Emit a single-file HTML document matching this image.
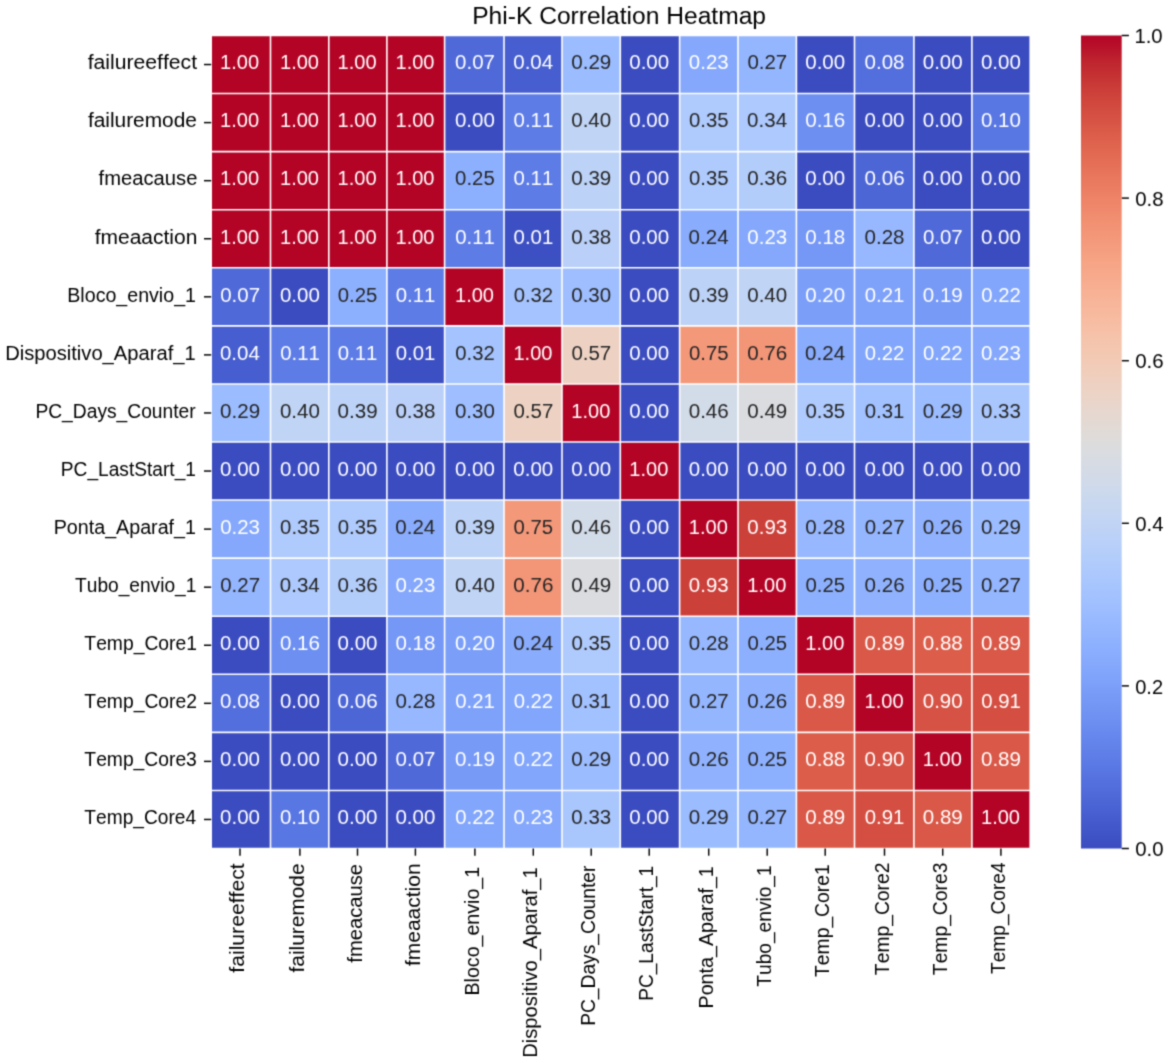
<!DOCTYPE html><html><head><meta charset="utf-8"><style>html,body{margin:0;padding:0;background:#fff;}svg{display:block;}text{font-family:"Liberation Sans",sans-serif;font-kerning:none;font-variant-ligatures:none;}</style></head><body>
<div><svg width="1170" height="1063" viewBox="0 0 1170 1063">
<defs><filter id="bl" filterUnits="userSpaceOnUse" x="0" y="0" width="1170" height="1063" color-interpolation-filters="sRGB"><feConvolveMatrix order="3" kernelMatrix="0.0324 0.1152 0.0324 0.1152 0.4096 0.1152 0.0324 0.1152 0.0324" edgeMode="duplicate"/></filter></defs>
<g filter="url(#bl)">
<rect x="0" y="0" width="1170" height="1063" fill="#fff"/>
<g><rect x="211.20" y="35.50" width="59.30" height="58.07" fill="#b40426"/><rect x="270.50" y="35.50" width="58.30" height="58.07" fill="#b40426"/><rect x="328.80" y="35.50" width="58.10" height="58.07" fill="#b40426"/><rect x="386.90" y="35.50" width="57.70" height="58.07" fill="#b40426"/><rect x="444.60" y="35.50" width="59.40" height="58.07" fill="#4f69d9"/><rect x="504.00" y="35.50" width="58.00" height="58.07" fill="#465ecf"/><rect x="562.00" y="35.50" width="58.30" height="58.07" fill="#9bbcff"/><rect x="620.30" y="35.50" width="59.30" height="58.07" fill="#3b4cc0"/><rect x="679.60" y="35.50" width="58.40" height="58.07" fill="#85a8fc"/><rect x="738.00" y="35.50" width="58.40" height="58.07" fill="#94b6ff"/><rect x="796.40" y="35.50" width="58.10" height="58.07" fill="#3b4cc0"/><rect x="854.50" y="35.50" width="59.40" height="58.07" fill="#536edd"/><rect x="913.90" y="35.50" width="58.00" height="58.07" fill="#3b4cc0"/><rect x="971.90" y="35.50" width="58.30" height="58.07" fill="#3b4cc0"/><rect x="211.20" y="93.57" width="59.30" height="58.07" fill="#b40426"/><rect x="270.50" y="93.57" width="58.30" height="58.07" fill="#b40426"/><rect x="328.80" y="93.57" width="58.10" height="58.07" fill="#b40426"/><rect x="386.90" y="93.57" width="57.70" height="58.07" fill="#b40426"/><rect x="444.60" y="93.57" width="59.40" height="58.07" fill="#3b4cc0"/><rect x="504.00" y="93.57" width="58.00" height="58.07" fill="#5d7ce6"/><rect x="562.00" y="93.57" width="58.30" height="58.07" fill="#c0d4f5"/><rect x="620.30" y="93.57" width="59.30" height="58.07" fill="#3b4cc0"/><rect x="679.60" y="93.57" width="58.40" height="58.07" fill="#afcafc"/><rect x="738.00" y="93.57" width="58.40" height="58.07" fill="#adc9fd"/><rect x="796.40" y="93.57" width="58.10" height="58.07" fill="#6c8ff1"/><rect x="854.50" y="93.57" width="59.40" height="58.07" fill="#3b4cc0"/><rect x="913.90" y="93.57" width="58.00" height="58.07" fill="#3b4cc0"/><rect x="971.90" y="93.57" width="58.30" height="58.07" fill="#5977e3"/><rect x="211.20" y="151.64" width="59.30" height="58.07" fill="#b40426"/><rect x="270.50" y="151.64" width="58.30" height="58.07" fill="#b40426"/><rect x="328.80" y="151.64" width="58.10" height="58.07" fill="#b40426"/><rect x="386.90" y="151.64" width="57.70" height="58.07" fill="#b40426"/><rect x="444.60" y="151.64" width="59.40" height="58.07" fill="#8db0fe"/><rect x="504.00" y="151.64" width="58.00" height="58.07" fill="#5d7ce6"/><rect x="562.00" y="151.64" width="58.30" height="58.07" fill="#bcd2f7"/><rect x="620.30" y="151.64" width="59.30" height="58.07" fill="#3b4cc0"/><rect x="679.60" y="151.64" width="58.40" height="58.07" fill="#afcafc"/><rect x="738.00" y="151.64" width="58.40" height="58.07" fill="#b3cdfb"/><rect x="796.40" y="151.64" width="58.10" height="58.07" fill="#3b4cc0"/><rect x="854.50" y="151.64" width="59.40" height="58.07" fill="#4c66d6"/><rect x="913.90" y="151.64" width="58.00" height="58.07" fill="#3b4cc0"/><rect x="971.90" y="151.64" width="58.30" height="58.07" fill="#3b4cc0"/><rect x="211.20" y="209.71" width="59.30" height="58.07" fill="#b40426"/><rect x="270.50" y="209.71" width="58.30" height="58.07" fill="#b40426"/><rect x="328.80" y="209.71" width="58.10" height="58.07" fill="#b40426"/><rect x="386.90" y="209.71" width="57.70" height="58.07" fill="#b40426"/><rect x="444.60" y="209.71" width="59.40" height="58.07" fill="#5d7ce6"/><rect x="504.00" y="209.71" width="58.00" height="58.07" fill="#3d50c3"/><rect x="562.00" y="209.71" width="58.30" height="58.07" fill="#bad0f8"/><rect x="620.30" y="209.71" width="59.30" height="58.07" fill="#3b4cc0"/><rect x="679.60" y="209.71" width="58.40" height="58.07" fill="#89acfd"/><rect x="738.00" y="209.71" width="58.40" height="58.07" fill="#85a8fc"/><rect x="796.40" y="209.71" width="58.10" height="58.07" fill="#7597f6"/><rect x="854.50" y="209.71" width="59.40" height="58.07" fill="#97b8ff"/><rect x="913.90" y="209.71" width="58.00" height="58.07" fill="#4f69d9"/><rect x="971.90" y="209.71" width="58.30" height="58.07" fill="#3b4cc0"/><rect x="211.20" y="267.79" width="59.30" height="58.07" fill="#4f69d9"/><rect x="270.50" y="267.79" width="58.30" height="58.07" fill="#3b4cc0"/><rect x="328.80" y="267.79" width="58.10" height="58.07" fill="#8db0fe"/><rect x="386.90" y="267.79" width="57.70" height="58.07" fill="#5d7ce6"/><rect x="444.60" y="267.79" width="59.40" height="58.07" fill="#b40426"/><rect x="504.00" y="267.79" width="58.00" height="58.07" fill="#a5c3fe"/><rect x="562.00" y="267.79" width="58.30" height="58.07" fill="#9ebeff"/><rect x="620.30" y="267.79" width="59.30" height="58.07" fill="#3b4cc0"/><rect x="679.60" y="267.79" width="58.40" height="58.07" fill="#bcd2f7"/><rect x="738.00" y="267.79" width="58.40" height="58.07" fill="#c0d4f5"/><rect x="796.40" y="267.79" width="58.10" height="58.07" fill="#7b9ff9"/><rect x="854.50" y="267.79" width="59.40" height="58.07" fill="#7ea1fa"/><rect x="913.90" y="267.79" width="58.00" height="58.07" fill="#779af7"/><rect x="971.90" y="267.79" width="58.30" height="58.07" fill="#82a6fb"/><rect x="211.20" y="325.86" width="59.30" height="58.07" fill="#465ecf"/><rect x="270.50" y="325.86" width="58.30" height="58.07" fill="#5d7ce6"/><rect x="328.80" y="325.86" width="58.10" height="58.07" fill="#5d7ce6"/><rect x="386.90" y="325.86" width="57.70" height="58.07" fill="#3d50c3"/><rect x="444.60" y="325.86" width="59.40" height="58.07" fill="#a5c3fe"/><rect x="504.00" y="325.86" width="58.00" height="58.07" fill="#b40426"/><rect x="562.00" y="325.86" width="58.30" height="58.07" fill="#edd2c3"/><rect x="620.30" y="325.86" width="59.30" height="58.07" fill="#3b4cc0"/><rect x="679.60" y="325.86" width="58.40" height="58.07" fill="#f4987a"/><rect x="738.00" y="325.86" width="58.40" height="58.07" fill="#f39577"/><rect x="796.40" y="325.86" width="58.10" height="58.07" fill="#89acfd"/><rect x="854.50" y="325.86" width="59.40" height="58.07" fill="#82a6fb"/><rect x="913.90" y="325.86" width="58.00" height="58.07" fill="#82a6fb"/><rect x="971.90" y="325.86" width="58.30" height="58.07" fill="#85a8fc"/><rect x="211.20" y="383.93" width="59.30" height="58.07" fill="#9bbcff"/><rect x="270.50" y="383.93" width="58.30" height="58.07" fill="#c0d4f5"/><rect x="328.80" y="383.93" width="58.10" height="58.07" fill="#bcd2f7"/><rect x="386.90" y="383.93" width="57.70" height="58.07" fill="#bad0f8"/><rect x="444.60" y="383.93" width="59.40" height="58.07" fill="#9ebeff"/><rect x="504.00" y="383.93" width="58.00" height="58.07" fill="#edd2c3"/><rect x="562.00" y="383.93" width="58.30" height="58.07" fill="#b40426"/><rect x="620.30" y="383.93" width="59.30" height="58.07" fill="#3b4cc0"/><rect x="679.60" y="383.93" width="58.40" height="58.07" fill="#d2dbe8"/><rect x="738.00" y="383.93" width="58.40" height="58.07" fill="#dadce0"/><rect x="796.40" y="383.93" width="58.10" height="58.07" fill="#afcafc"/><rect x="854.50" y="383.93" width="59.40" height="58.07" fill="#a2c1ff"/><rect x="913.90" y="383.93" width="58.00" height="58.07" fill="#9bbcff"/><rect x="971.90" y="383.93" width="58.30" height="58.07" fill="#a9c6fd"/><rect x="211.20" y="442.00" width="59.30" height="58.07" fill="#3b4cc0"/><rect x="270.50" y="442.00" width="58.30" height="58.07" fill="#3b4cc0"/><rect x="328.80" y="442.00" width="58.10" height="58.07" fill="#3b4cc0"/><rect x="386.90" y="442.00" width="57.70" height="58.07" fill="#3b4cc0"/><rect x="444.60" y="442.00" width="59.40" height="58.07" fill="#3b4cc0"/><rect x="504.00" y="442.00" width="58.00" height="58.07" fill="#3b4cc0"/><rect x="562.00" y="442.00" width="58.30" height="58.07" fill="#3b4cc0"/><rect x="620.30" y="442.00" width="59.30" height="58.07" fill="#b40426"/><rect x="679.60" y="442.00" width="58.40" height="58.07" fill="#3b4cc0"/><rect x="738.00" y="442.00" width="58.40" height="58.07" fill="#3b4cc0"/><rect x="796.40" y="442.00" width="58.10" height="58.07" fill="#3b4cc0"/><rect x="854.50" y="442.00" width="59.40" height="58.07" fill="#3b4cc0"/><rect x="913.90" y="442.00" width="58.00" height="58.07" fill="#3b4cc0"/><rect x="971.90" y="442.00" width="58.30" height="58.07" fill="#3b4cc0"/><rect x="211.20" y="500.07" width="59.30" height="58.07" fill="#85a8fc"/><rect x="270.50" y="500.07" width="58.30" height="58.07" fill="#afcafc"/><rect x="328.80" y="500.07" width="58.10" height="58.07" fill="#afcafc"/><rect x="386.90" y="500.07" width="57.70" height="58.07" fill="#89acfd"/><rect x="444.60" y="500.07" width="59.40" height="58.07" fill="#bcd2f7"/><rect x="504.00" y="500.07" width="58.00" height="58.07" fill="#f4987a"/><rect x="562.00" y="500.07" width="58.30" height="58.07" fill="#d2dbe8"/><rect x="620.30" y="500.07" width="59.30" height="58.07" fill="#3b4cc0"/><rect x="679.60" y="500.07" width="58.40" height="58.07" fill="#b40426"/><rect x="738.00" y="500.07" width="58.40" height="58.07" fill="#cc403a"/><rect x="796.40" y="500.07" width="58.10" height="58.07" fill="#97b8ff"/><rect x="854.50" y="500.07" width="59.40" height="58.07" fill="#94b6ff"/><rect x="913.90" y="500.07" width="58.00" height="58.07" fill="#90b2fe"/><rect x="971.90" y="500.07" width="58.30" height="58.07" fill="#9bbcff"/><rect x="211.20" y="558.14" width="59.30" height="58.07" fill="#94b6ff"/><rect x="270.50" y="558.14" width="58.30" height="58.07" fill="#adc9fd"/><rect x="328.80" y="558.14" width="58.10" height="58.07" fill="#b3cdfb"/><rect x="386.90" y="558.14" width="57.70" height="58.07" fill="#85a8fc"/><rect x="444.60" y="558.14" width="59.40" height="58.07" fill="#c0d4f5"/><rect x="504.00" y="558.14" width="58.00" height="58.07" fill="#f39577"/><rect x="562.00" y="558.14" width="58.30" height="58.07" fill="#dadce0"/><rect x="620.30" y="558.14" width="59.30" height="58.07" fill="#3b4cc0"/><rect x="679.60" y="558.14" width="58.40" height="58.07" fill="#cc403a"/><rect x="738.00" y="558.14" width="58.40" height="58.07" fill="#b40426"/><rect x="796.40" y="558.14" width="58.10" height="58.07" fill="#8db0fe"/><rect x="854.50" y="558.14" width="59.40" height="58.07" fill="#90b2fe"/><rect x="913.90" y="558.14" width="58.00" height="58.07" fill="#8db0fe"/><rect x="971.90" y="558.14" width="58.30" height="58.07" fill="#94b6ff"/><rect x="211.20" y="616.21" width="59.30" height="58.07" fill="#3b4cc0"/><rect x="270.50" y="616.21" width="58.30" height="58.07" fill="#6c8ff1"/><rect x="328.80" y="616.21" width="58.10" height="58.07" fill="#3b4cc0"/><rect x="386.90" y="616.21" width="57.70" height="58.07" fill="#7597f6"/><rect x="444.60" y="616.21" width="59.40" height="58.07" fill="#7b9ff9"/><rect x="504.00" y="616.21" width="58.00" height="58.07" fill="#89acfd"/><rect x="562.00" y="616.21" width="58.30" height="58.07" fill="#afcafc"/><rect x="620.30" y="616.21" width="59.30" height="58.07" fill="#3b4cc0"/><rect x="679.60" y="616.21" width="58.40" height="58.07" fill="#97b8ff"/><rect x="738.00" y="616.21" width="58.40" height="58.07" fill="#8db0fe"/><rect x="796.40" y="616.21" width="58.10" height="58.07" fill="#b40426"/><rect x="854.50" y="616.21" width="59.40" height="58.07" fill="#d95847"/><rect x="913.90" y="616.21" width="58.00" height="58.07" fill="#dc5d4a"/><rect x="971.90" y="616.21" width="58.30" height="58.07" fill="#d95847"/><rect x="211.20" y="674.29" width="59.30" height="58.07" fill="#536edd"/><rect x="270.50" y="674.29" width="58.30" height="58.07" fill="#3b4cc0"/><rect x="328.80" y="674.29" width="58.10" height="58.07" fill="#4c66d6"/><rect x="386.90" y="674.29" width="57.70" height="58.07" fill="#97b8ff"/><rect x="444.60" y="674.29" width="59.40" height="58.07" fill="#7ea1fa"/><rect x="504.00" y="674.29" width="58.00" height="58.07" fill="#82a6fb"/><rect x="562.00" y="674.29" width="58.30" height="58.07" fill="#a2c1ff"/><rect x="620.30" y="674.29" width="59.30" height="58.07" fill="#3b4cc0"/><rect x="679.60" y="674.29" width="58.40" height="58.07" fill="#94b6ff"/><rect x="738.00" y="674.29" width="58.40" height="58.07" fill="#90b2fe"/><rect x="796.40" y="674.29" width="58.10" height="58.07" fill="#d95847"/><rect x="854.50" y="674.29" width="59.40" height="58.07" fill="#b40426"/><rect x="913.90" y="674.29" width="58.00" height="58.07" fill="#d65244"/><rect x="971.90" y="674.29" width="58.30" height="58.07" fill="#d44e41"/><rect x="211.20" y="732.36" width="59.30" height="58.07" fill="#3b4cc0"/><rect x="270.50" y="732.36" width="58.30" height="58.07" fill="#3b4cc0"/><rect x="328.80" y="732.36" width="58.10" height="58.07" fill="#3b4cc0"/><rect x="386.90" y="732.36" width="57.70" height="58.07" fill="#4f69d9"/><rect x="444.60" y="732.36" width="59.40" height="58.07" fill="#779af7"/><rect x="504.00" y="732.36" width="58.00" height="58.07" fill="#82a6fb"/><rect x="562.00" y="732.36" width="58.30" height="58.07" fill="#9bbcff"/><rect x="620.30" y="732.36" width="59.30" height="58.07" fill="#3b4cc0"/><rect x="679.60" y="732.36" width="58.40" height="58.07" fill="#90b2fe"/><rect x="738.00" y="732.36" width="58.40" height="58.07" fill="#8db0fe"/><rect x="796.40" y="732.36" width="58.10" height="58.07" fill="#dc5d4a"/><rect x="854.50" y="732.36" width="59.40" height="58.07" fill="#d65244"/><rect x="913.90" y="732.36" width="58.00" height="58.07" fill="#b40426"/><rect x="971.90" y="732.36" width="58.30" height="58.07" fill="#d95847"/><rect x="211.20" y="790.43" width="59.30" height="58.07" fill="#3b4cc0"/><rect x="270.50" y="790.43" width="58.30" height="58.07" fill="#5977e3"/><rect x="328.80" y="790.43" width="58.10" height="58.07" fill="#3b4cc0"/><rect x="386.90" y="790.43" width="57.70" height="58.07" fill="#3b4cc0"/><rect x="444.60" y="790.43" width="59.40" height="58.07" fill="#82a6fb"/><rect x="504.00" y="790.43" width="58.00" height="58.07" fill="#85a8fc"/><rect x="562.00" y="790.43" width="58.30" height="58.07" fill="#a9c6fd"/><rect x="620.30" y="790.43" width="59.30" height="58.07" fill="#3b4cc0"/><rect x="679.60" y="790.43" width="58.40" height="58.07" fill="#9bbcff"/><rect x="738.00" y="790.43" width="58.40" height="58.07" fill="#94b6ff"/><rect x="796.40" y="790.43" width="58.10" height="58.07" fill="#d95847"/><rect x="854.50" y="790.43" width="59.40" height="58.07" fill="#d44e41"/><rect x="913.90" y="790.43" width="58.00" height="58.07" fill="#d95847"/><rect x="971.90" y="790.43" width="58.30" height="58.07" fill="#b40426"/></g>
<g stroke="#fff" stroke-width="1.6"><line x1="211.20" y1="34.70" x2="211.20" y2="849.30"/><line x1="210.40" y1="35.50" x2="1031.00" y2="35.50"/><line x1="270.50" y1="34.70" x2="270.50" y2="849.30"/><line x1="210.40" y1="93.57" x2="1031.00" y2="93.57"/><line x1="328.80" y1="34.70" x2="328.80" y2="849.30"/><line x1="210.40" y1="151.64" x2="1031.00" y2="151.64"/><line x1="386.90" y1="34.70" x2="386.90" y2="849.30"/><line x1="210.40" y1="209.71" x2="1031.00" y2="209.71"/><line x1="444.60" y1="34.70" x2="444.60" y2="849.30"/><line x1="210.40" y1="267.79" x2="1031.00" y2="267.79"/><line x1="504.00" y1="34.70" x2="504.00" y2="849.30"/><line x1="210.40" y1="325.86" x2="1031.00" y2="325.86"/><line x1="562.00" y1="34.70" x2="562.00" y2="849.30"/><line x1="210.40" y1="383.93" x2="1031.00" y2="383.93"/><line x1="620.30" y1="34.70" x2="620.30" y2="849.30"/><line x1="210.40" y1="442.00" x2="1031.00" y2="442.00"/><line x1="679.60" y1="34.70" x2="679.60" y2="849.30"/><line x1="210.40" y1="500.07" x2="1031.00" y2="500.07"/><line x1="738.00" y1="34.70" x2="738.00" y2="849.30"/><line x1="210.40" y1="558.14" x2="1031.00" y2="558.14"/><line x1="796.40" y1="34.70" x2="796.40" y2="849.30"/><line x1="210.40" y1="616.21" x2="1031.00" y2="616.21"/><line x1="854.50" y1="34.70" x2="854.50" y2="849.30"/><line x1="210.40" y1="674.29" x2="1031.00" y2="674.29"/><line x1="913.90" y1="34.70" x2="913.90" y2="849.30"/><line x1="210.40" y1="732.36" x2="1031.00" y2="732.36"/><line x1="971.90" y1="34.70" x2="971.90" y2="849.30"/><line x1="210.40" y1="790.43" x2="1031.00" y2="790.43"/><line x1="1030.20" y1="34.70" x2="1030.20" y2="849.30"/><line x1="210.40" y1="848.50" x2="1031.00" y2="848.50"/></g>
<g><text x="220.11" y="69.34" font-size="19.3" textLength="39.03" lengthAdjust="spacingAndGlyphs" fill="#fff">1.00</text><text x="280.01" y="69.34" font-size="19.3" textLength="39.03" lengthAdjust="spacingAndGlyphs" fill="#fff">1.00</text><text x="337.61" y="69.34" font-size="19.3" textLength="39.03" lengthAdjust="spacingAndGlyphs" fill="#fff">1.00</text><text x="395.51" y="69.34" font-size="19.3" textLength="39.03" lengthAdjust="spacingAndGlyphs" fill="#fff">1.00</text><text x="455.11" y="69.34" font-size="19.3" textLength="39.80" lengthAdjust="spacingAndGlyphs" fill="#fff">0.07</text><text x="513.24" y="69.34" font-size="19.3" textLength="39.92" lengthAdjust="spacingAndGlyphs" fill="#fff">0.04</text><text x="571.27" y="69.34" font-size="19.3" textLength="40.03" lengthAdjust="spacingAndGlyphs" fill="#262626">0.29</text><text x="629.24" y="69.34" font-size="19.3" textLength="39.93" lengthAdjust="spacingAndGlyphs" fill="#fff">0.00</text><text x="688.87" y="69.34" font-size="19.3" textLength="39.77" lengthAdjust="spacingAndGlyphs" fill="#fff">0.23</text><text x="747.41" y="69.34" font-size="19.3" textLength="39.80" lengthAdjust="spacingAndGlyphs" fill="#262626">0.27</text><text x="805.24" y="69.34" font-size="19.3" textLength="39.93" lengthAdjust="spacingAndGlyphs" fill="#fff">0.00</text><text x="864.55" y="69.34" font-size="19.3" textLength="39.98" lengthAdjust="spacingAndGlyphs" fill="#fff">0.08</text><text x="922.74" y="69.34" font-size="19.3" textLength="39.93" lengthAdjust="spacingAndGlyphs" fill="#fff">0.00</text><text x="980.94" y="69.34" font-size="19.3" textLength="39.93" lengthAdjust="spacingAndGlyphs" fill="#fff">0.00</text><text x="220.11" y="127.41" font-size="19.3" textLength="39.03" lengthAdjust="spacingAndGlyphs" fill="#fff">1.00</text><text x="280.01" y="127.41" font-size="19.3" textLength="39.03" lengthAdjust="spacingAndGlyphs" fill="#fff">1.00</text><text x="337.61" y="127.41" font-size="19.3" textLength="39.03" lengthAdjust="spacingAndGlyphs" fill="#fff">1.00</text><text x="395.51" y="127.41" font-size="19.3" textLength="39.03" lengthAdjust="spacingAndGlyphs" fill="#fff">1.00</text><text x="454.94" y="127.41" font-size="19.3" textLength="39.93" lengthAdjust="spacingAndGlyphs" fill="#fff">0.00</text><text x="513.58" y="127.41" font-size="19.3" textLength="39.64" lengthAdjust="spacingAndGlyphs" fill="#fff">0.11</text><text x="571.24" y="127.41" font-size="19.3" textLength="39.93" lengthAdjust="spacingAndGlyphs" fill="#262626">0.40</text><text x="629.24" y="127.41" font-size="19.3" textLength="39.93" lengthAdjust="spacingAndGlyphs" fill="#fff">0.00</text><text x="688.93" y="127.41" font-size="19.3" textLength="39.59" lengthAdjust="spacingAndGlyphs" fill="#262626">0.35</text><text x="747.14" y="127.41" font-size="19.3" textLength="39.92" lengthAdjust="spacingAndGlyphs" fill="#262626">0.34</text><text x="805.20" y="127.41" font-size="19.3" textLength="40.10" lengthAdjust="spacingAndGlyphs" fill="#fff">0.16</text><text x="864.54" y="127.41" font-size="19.3" textLength="39.93" lengthAdjust="spacingAndGlyphs" fill="#fff">0.00</text><text x="922.74" y="127.41" font-size="19.3" textLength="39.93" lengthAdjust="spacingAndGlyphs" fill="#fff">0.00</text><text x="980.94" y="127.41" font-size="19.3" textLength="39.93" lengthAdjust="spacingAndGlyphs" fill="#fff">0.10</text><text x="220.11" y="185.48" font-size="19.3" textLength="39.03" lengthAdjust="spacingAndGlyphs" fill="#fff">1.00</text><text x="280.01" y="185.48" font-size="19.3" textLength="39.03" lengthAdjust="spacingAndGlyphs" fill="#fff">1.00</text><text x="337.61" y="185.48" font-size="19.3" textLength="39.03" lengthAdjust="spacingAndGlyphs" fill="#fff">1.00</text><text x="395.51" y="185.48" font-size="19.3" textLength="39.03" lengthAdjust="spacingAndGlyphs" fill="#fff">1.00</text><text x="455.13" y="185.48" font-size="19.3" textLength="39.59" lengthAdjust="spacingAndGlyphs" fill="#262626">0.25</text><text x="513.58" y="185.48" font-size="19.3" textLength="39.64" lengthAdjust="spacingAndGlyphs" fill="#fff">0.11</text><text x="571.27" y="185.48" font-size="19.3" textLength="40.03" lengthAdjust="spacingAndGlyphs" fill="#262626">0.39</text><text x="629.24" y="185.48" font-size="19.3" textLength="39.93" lengthAdjust="spacingAndGlyphs" fill="#fff">0.00</text><text x="688.93" y="185.48" font-size="19.3" textLength="39.59" lengthAdjust="spacingAndGlyphs" fill="#262626">0.35</text><text x="747.20" y="185.48" font-size="19.3" textLength="40.10" lengthAdjust="spacingAndGlyphs" fill="#262626">0.36</text><text x="805.24" y="185.48" font-size="19.3" textLength="39.93" lengthAdjust="spacingAndGlyphs" fill="#fff">0.00</text><text x="864.50" y="185.48" font-size="19.3" textLength="40.10" lengthAdjust="spacingAndGlyphs" fill="#fff">0.06</text><text x="922.74" y="185.48" font-size="19.3" textLength="39.93" lengthAdjust="spacingAndGlyphs" fill="#fff">0.00</text><text x="980.94" y="185.48" font-size="19.3" textLength="39.93" lengthAdjust="spacingAndGlyphs" fill="#fff">0.00</text><text x="220.11" y="243.55" font-size="19.3" textLength="39.03" lengthAdjust="spacingAndGlyphs" fill="#fff">1.00</text><text x="280.01" y="243.55" font-size="19.3" textLength="39.03" lengthAdjust="spacingAndGlyphs" fill="#fff">1.00</text><text x="337.61" y="243.55" font-size="19.3" textLength="39.03" lengthAdjust="spacingAndGlyphs" fill="#fff">1.00</text><text x="395.51" y="243.55" font-size="19.3" textLength="39.03" lengthAdjust="spacingAndGlyphs" fill="#fff">1.00</text><text x="455.18" y="243.55" font-size="19.3" textLength="39.64" lengthAdjust="spacingAndGlyphs" fill="#fff">0.11</text><text x="513.58" y="243.55" font-size="19.3" textLength="39.64" lengthAdjust="spacingAndGlyphs" fill="#fff">0.01</text><text x="571.25" y="243.55" font-size="19.3" textLength="39.98" lengthAdjust="spacingAndGlyphs" fill="#262626">0.38</text><text x="629.24" y="243.55" font-size="19.3" textLength="39.93" lengthAdjust="spacingAndGlyphs" fill="#fff">0.00</text><text x="688.64" y="243.55" font-size="19.3" textLength="39.92" lengthAdjust="spacingAndGlyphs" fill="#262626">0.24</text><text x="747.37" y="243.55" font-size="19.3" textLength="39.77" lengthAdjust="spacingAndGlyphs" fill="#fff">0.23</text><text x="805.25" y="243.55" font-size="19.3" textLength="39.98" lengthAdjust="spacingAndGlyphs" fill="#fff">0.18</text><text x="864.55" y="243.55" font-size="19.3" textLength="39.98" lengthAdjust="spacingAndGlyphs" fill="#262626">0.28</text><text x="922.91" y="243.55" font-size="19.3" textLength="39.80" lengthAdjust="spacingAndGlyphs" fill="#fff">0.07</text><text x="980.94" y="243.55" font-size="19.3" textLength="39.93" lengthAdjust="spacingAndGlyphs" fill="#fff">0.00</text><text x="220.21" y="301.62" font-size="19.3" textLength="39.80" lengthAdjust="spacingAndGlyphs" fill="#fff">0.07</text><text x="279.94" y="301.62" font-size="19.3" textLength="39.93" lengthAdjust="spacingAndGlyphs" fill="#fff">0.00</text><text x="337.73" y="301.62" font-size="19.3" textLength="39.59" lengthAdjust="spacingAndGlyphs" fill="#262626">0.25</text><text x="395.68" y="301.62" font-size="19.3" textLength="39.64" lengthAdjust="spacingAndGlyphs" fill="#fff">0.11</text><text x="455.01" y="301.62" font-size="19.3" textLength="39.03" lengthAdjust="spacingAndGlyphs" fill="#fff">1.00</text><text x="513.65" y="301.62" font-size="19.3" textLength="39.52" lengthAdjust="spacingAndGlyphs" fill="#262626">0.32</text><text x="571.24" y="301.62" font-size="19.3" textLength="39.93" lengthAdjust="spacingAndGlyphs" fill="#262626">0.30</text><text x="629.24" y="301.62" font-size="19.3" textLength="39.93" lengthAdjust="spacingAndGlyphs" fill="#fff">0.00</text><text x="688.77" y="301.62" font-size="19.3" textLength="40.03" lengthAdjust="spacingAndGlyphs" fill="#262626">0.39</text><text x="747.24" y="301.62" font-size="19.3" textLength="39.93" lengthAdjust="spacingAndGlyphs" fill="#262626">0.40</text><text x="805.24" y="301.62" font-size="19.3" textLength="39.93" lengthAdjust="spacingAndGlyphs" fill="#fff">0.20</text><text x="864.78" y="301.62" font-size="19.3" textLength="39.64" lengthAdjust="spacingAndGlyphs" fill="#fff">0.21</text><text x="922.77" y="301.62" font-size="19.3" textLength="40.03" lengthAdjust="spacingAndGlyphs" fill="#fff">0.19</text><text x="981.25" y="301.62" font-size="19.3" textLength="39.52" lengthAdjust="spacingAndGlyphs" fill="#fff">0.22</text><text x="219.94" y="359.69" font-size="19.3" textLength="39.92" lengthAdjust="spacingAndGlyphs" fill="#fff">0.04</text><text x="280.18" y="359.69" font-size="19.3" textLength="39.64" lengthAdjust="spacingAndGlyphs" fill="#fff">0.11</text><text x="337.78" y="359.69" font-size="19.3" textLength="39.64" lengthAdjust="spacingAndGlyphs" fill="#fff">0.11</text><text x="395.68" y="359.69" font-size="19.3" textLength="39.64" lengthAdjust="spacingAndGlyphs" fill="#fff">0.01</text><text x="455.25" y="359.69" font-size="19.3" textLength="39.52" lengthAdjust="spacingAndGlyphs" fill="#262626">0.32</text><text x="513.41" y="359.69" font-size="19.3" textLength="39.03" lengthAdjust="spacingAndGlyphs" fill="#fff">1.00</text><text x="571.41" y="359.69" font-size="19.3" textLength="39.80" lengthAdjust="spacingAndGlyphs" fill="#262626">0.57</text><text x="629.24" y="359.69" font-size="19.3" textLength="39.93" lengthAdjust="spacingAndGlyphs" fill="#fff">0.00</text><text x="688.93" y="359.69" font-size="19.3" textLength="39.59" lengthAdjust="spacingAndGlyphs" fill="#262626">0.75</text><text x="747.20" y="359.69" font-size="19.3" textLength="40.10" lengthAdjust="spacingAndGlyphs" fill="#262626">0.76</text><text x="805.14" y="359.69" font-size="19.3" textLength="39.92" lengthAdjust="spacingAndGlyphs" fill="#262626">0.24</text><text x="864.85" y="359.69" font-size="19.3" textLength="39.52" lengthAdjust="spacingAndGlyphs" fill="#fff">0.22</text><text x="923.05" y="359.69" font-size="19.3" textLength="39.52" lengthAdjust="spacingAndGlyphs" fill="#fff">0.22</text><text x="981.07" y="359.69" font-size="19.3" textLength="39.77" lengthAdjust="spacingAndGlyphs" fill="#fff">0.23</text><text x="220.07" y="417.76" font-size="19.3" textLength="40.03" lengthAdjust="spacingAndGlyphs" fill="#262626">0.29</text><text x="279.94" y="417.76" font-size="19.3" textLength="39.93" lengthAdjust="spacingAndGlyphs" fill="#262626">0.40</text><text x="337.57" y="417.76" font-size="19.3" textLength="40.03" lengthAdjust="spacingAndGlyphs" fill="#262626">0.39</text><text x="395.45" y="417.76" font-size="19.3" textLength="39.98" lengthAdjust="spacingAndGlyphs" fill="#262626">0.38</text><text x="454.94" y="417.76" font-size="19.3" textLength="39.93" lengthAdjust="spacingAndGlyphs" fill="#262626">0.30</text><text x="513.51" y="417.76" font-size="19.3" textLength="39.80" lengthAdjust="spacingAndGlyphs" fill="#262626">0.57</text><text x="571.31" y="417.76" font-size="19.3" textLength="39.03" lengthAdjust="spacingAndGlyphs" fill="#fff">1.00</text><text x="629.24" y="417.76" font-size="19.3" textLength="39.93" lengthAdjust="spacingAndGlyphs" fill="#fff">0.00</text><text x="688.70" y="417.76" font-size="19.3" textLength="40.10" lengthAdjust="spacingAndGlyphs" fill="#262626">0.46</text><text x="747.27" y="417.76" font-size="19.3" textLength="40.03" lengthAdjust="spacingAndGlyphs" fill="#262626">0.49</text><text x="805.43" y="417.76" font-size="19.3" textLength="39.59" lengthAdjust="spacingAndGlyphs" fill="#262626">0.35</text><text x="864.78" y="417.76" font-size="19.3" textLength="39.64" lengthAdjust="spacingAndGlyphs" fill="#262626">0.31</text><text x="922.77" y="417.76" font-size="19.3" textLength="40.03" lengthAdjust="spacingAndGlyphs" fill="#262626">0.29</text><text x="981.07" y="417.76" font-size="19.3" textLength="39.77" lengthAdjust="spacingAndGlyphs" fill="#262626">0.33</text><text x="220.04" y="475.84" font-size="19.3" textLength="39.93" lengthAdjust="spacingAndGlyphs" fill="#fff">0.00</text><text x="279.94" y="475.84" font-size="19.3" textLength="39.93" lengthAdjust="spacingAndGlyphs" fill="#fff">0.00</text><text x="337.54" y="475.84" font-size="19.3" textLength="39.93" lengthAdjust="spacingAndGlyphs" fill="#fff">0.00</text><text x="395.44" y="475.84" font-size="19.3" textLength="39.93" lengthAdjust="spacingAndGlyphs" fill="#fff">0.00</text><text x="454.94" y="475.84" font-size="19.3" textLength="39.93" lengthAdjust="spacingAndGlyphs" fill="#fff">0.00</text><text x="513.34" y="475.84" font-size="19.3" textLength="39.93" lengthAdjust="spacingAndGlyphs" fill="#fff">0.00</text><text x="571.24" y="475.84" font-size="19.3" textLength="39.93" lengthAdjust="spacingAndGlyphs" fill="#fff">0.00</text><text x="629.31" y="475.84" font-size="19.3" textLength="39.03" lengthAdjust="spacingAndGlyphs" fill="#fff">1.00</text><text x="688.74" y="475.84" font-size="19.3" textLength="39.93" lengthAdjust="spacingAndGlyphs" fill="#fff">0.00</text><text x="747.24" y="475.84" font-size="19.3" textLength="39.93" lengthAdjust="spacingAndGlyphs" fill="#fff">0.00</text><text x="805.24" y="475.84" font-size="19.3" textLength="39.93" lengthAdjust="spacingAndGlyphs" fill="#fff">0.00</text><text x="864.54" y="475.84" font-size="19.3" textLength="39.93" lengthAdjust="spacingAndGlyphs" fill="#fff">0.00</text><text x="922.74" y="475.84" font-size="19.3" textLength="39.93" lengthAdjust="spacingAndGlyphs" fill="#fff">0.00</text><text x="980.94" y="475.84" font-size="19.3" textLength="39.93" lengthAdjust="spacingAndGlyphs" fill="#fff">0.00</text><text x="220.17" y="533.91" font-size="19.3" textLength="39.77" lengthAdjust="spacingAndGlyphs" fill="#fff">0.23</text><text x="280.13" y="533.91" font-size="19.3" textLength="39.59" lengthAdjust="spacingAndGlyphs" fill="#262626">0.35</text><text x="337.73" y="533.91" font-size="19.3" textLength="39.59" lengthAdjust="spacingAndGlyphs" fill="#262626">0.35</text><text x="395.34" y="533.91" font-size="19.3" textLength="39.92" lengthAdjust="spacingAndGlyphs" fill="#262626">0.24</text><text x="454.97" y="533.91" font-size="19.3" textLength="40.03" lengthAdjust="spacingAndGlyphs" fill="#262626">0.39</text><text x="513.53" y="533.91" font-size="19.3" textLength="39.59" lengthAdjust="spacingAndGlyphs" fill="#262626">0.75</text><text x="571.20" y="533.91" font-size="19.3" textLength="40.10" lengthAdjust="spacingAndGlyphs" fill="#262626">0.46</text><text x="629.24" y="533.91" font-size="19.3" textLength="39.93" lengthAdjust="spacingAndGlyphs" fill="#fff">0.00</text><text x="688.81" y="533.91" font-size="19.3" textLength="39.03" lengthAdjust="spacingAndGlyphs" fill="#fff">1.00</text><text x="747.37" y="533.91" font-size="19.3" textLength="39.77" lengthAdjust="spacingAndGlyphs" fill="#fff">0.93</text><text x="805.25" y="533.91" font-size="19.3" textLength="39.98" lengthAdjust="spacingAndGlyphs" fill="#262626">0.28</text><text x="864.71" y="533.91" font-size="19.3" textLength="39.80" lengthAdjust="spacingAndGlyphs" fill="#262626">0.27</text><text x="922.70" y="533.91" font-size="19.3" textLength="40.10" lengthAdjust="spacingAndGlyphs" fill="#262626">0.26</text><text x="980.97" y="533.91" font-size="19.3" textLength="40.03" lengthAdjust="spacingAndGlyphs" fill="#262626">0.29</text><text x="220.21" y="591.98" font-size="19.3" textLength="39.80" lengthAdjust="spacingAndGlyphs" fill="#262626">0.27</text><text x="279.84" y="591.98" font-size="19.3" textLength="39.92" lengthAdjust="spacingAndGlyphs" fill="#262626">0.34</text><text x="337.50" y="591.98" font-size="19.3" textLength="40.10" lengthAdjust="spacingAndGlyphs" fill="#262626">0.36</text><text x="395.57" y="591.98" font-size="19.3" textLength="39.77" lengthAdjust="spacingAndGlyphs" fill="#fff">0.23</text><text x="454.94" y="591.98" font-size="19.3" textLength="39.93" lengthAdjust="spacingAndGlyphs" fill="#262626">0.40</text><text x="513.30" y="591.98" font-size="19.3" textLength="40.10" lengthAdjust="spacingAndGlyphs" fill="#262626">0.76</text><text x="571.27" y="591.98" font-size="19.3" textLength="40.03" lengthAdjust="spacingAndGlyphs" fill="#262626">0.49</text><text x="629.24" y="591.98" font-size="19.3" textLength="39.93" lengthAdjust="spacingAndGlyphs" fill="#fff">0.00</text><text x="688.87" y="591.98" font-size="19.3" textLength="39.77" lengthAdjust="spacingAndGlyphs" fill="#fff">0.93</text><text x="747.31" y="591.98" font-size="19.3" textLength="39.03" lengthAdjust="spacingAndGlyphs" fill="#fff">1.00</text><text x="805.43" y="591.98" font-size="19.3" textLength="39.59" lengthAdjust="spacingAndGlyphs" fill="#262626">0.25</text><text x="864.50" y="591.98" font-size="19.3" textLength="40.10" lengthAdjust="spacingAndGlyphs" fill="#262626">0.26</text><text x="922.93" y="591.98" font-size="19.3" textLength="39.59" lengthAdjust="spacingAndGlyphs" fill="#262626">0.25</text><text x="981.11" y="591.98" font-size="19.3" textLength="39.80" lengthAdjust="spacingAndGlyphs" fill="#262626">0.27</text><text x="220.04" y="650.05" font-size="19.3" textLength="39.93" lengthAdjust="spacingAndGlyphs" fill="#fff">0.00</text><text x="279.90" y="650.05" font-size="19.3" textLength="40.10" lengthAdjust="spacingAndGlyphs" fill="#fff">0.16</text><text x="337.54" y="650.05" font-size="19.3" textLength="39.93" lengthAdjust="spacingAndGlyphs" fill="#fff">0.00</text><text x="395.45" y="650.05" font-size="19.3" textLength="39.98" lengthAdjust="spacingAndGlyphs" fill="#fff">0.18</text><text x="454.94" y="650.05" font-size="19.3" textLength="39.93" lengthAdjust="spacingAndGlyphs" fill="#fff">0.20</text><text x="513.24" y="650.05" font-size="19.3" textLength="39.92" lengthAdjust="spacingAndGlyphs" fill="#262626">0.24</text><text x="571.43" y="650.05" font-size="19.3" textLength="39.59" lengthAdjust="spacingAndGlyphs" fill="#262626">0.35</text><text x="629.24" y="650.05" font-size="19.3" textLength="39.93" lengthAdjust="spacingAndGlyphs" fill="#fff">0.00</text><text x="688.75" y="650.05" font-size="19.3" textLength="39.98" lengthAdjust="spacingAndGlyphs" fill="#262626">0.28</text><text x="747.43" y="650.05" font-size="19.3" textLength="39.59" lengthAdjust="spacingAndGlyphs" fill="#262626">0.25</text><text x="805.31" y="650.05" font-size="19.3" textLength="39.03" lengthAdjust="spacingAndGlyphs" fill="#fff">1.00</text><text x="864.57" y="650.05" font-size="19.3" textLength="40.03" lengthAdjust="spacingAndGlyphs" fill="#fff">0.89</text><text x="922.75" y="650.05" font-size="19.3" textLength="39.98" lengthAdjust="spacingAndGlyphs" fill="#fff">0.88</text><text x="980.97" y="650.05" font-size="19.3" textLength="40.03" lengthAdjust="spacingAndGlyphs" fill="#fff">0.89</text><text x="220.05" y="708.12" font-size="19.3" textLength="39.98" lengthAdjust="spacingAndGlyphs" fill="#fff">0.08</text><text x="279.94" y="708.12" font-size="19.3" textLength="39.93" lengthAdjust="spacingAndGlyphs" fill="#fff">0.00</text><text x="337.50" y="708.12" font-size="19.3" textLength="40.10" lengthAdjust="spacingAndGlyphs" fill="#fff">0.06</text><text x="395.45" y="708.12" font-size="19.3" textLength="39.98" lengthAdjust="spacingAndGlyphs" fill="#262626">0.28</text><text x="455.18" y="708.12" font-size="19.3" textLength="39.64" lengthAdjust="spacingAndGlyphs" fill="#fff">0.21</text><text x="513.65" y="708.12" font-size="19.3" textLength="39.52" lengthAdjust="spacingAndGlyphs" fill="#fff">0.22</text><text x="571.48" y="708.12" font-size="19.3" textLength="39.64" lengthAdjust="spacingAndGlyphs" fill="#262626">0.31</text><text x="629.24" y="708.12" font-size="19.3" textLength="39.93" lengthAdjust="spacingAndGlyphs" fill="#fff">0.00</text><text x="688.91" y="708.12" font-size="19.3" textLength="39.80" lengthAdjust="spacingAndGlyphs" fill="#262626">0.27</text><text x="747.20" y="708.12" font-size="19.3" textLength="40.10" lengthAdjust="spacingAndGlyphs" fill="#262626">0.26</text><text x="805.27" y="708.12" font-size="19.3" textLength="40.03" lengthAdjust="spacingAndGlyphs" fill="#fff">0.89</text><text x="864.61" y="708.12" font-size="19.3" textLength="39.03" lengthAdjust="spacingAndGlyphs" fill="#fff">1.00</text><text x="922.74" y="708.12" font-size="19.3" textLength="39.93" lengthAdjust="spacingAndGlyphs" fill="#fff">0.90</text><text x="981.18" y="708.12" font-size="19.3" textLength="39.64" lengthAdjust="spacingAndGlyphs" fill="#fff">0.91</text><text x="220.04" y="766.19" font-size="19.3" textLength="39.93" lengthAdjust="spacingAndGlyphs" fill="#fff">0.00</text><text x="279.94" y="766.19" font-size="19.3" textLength="39.93" lengthAdjust="spacingAndGlyphs" fill="#fff">0.00</text><text x="337.54" y="766.19" font-size="19.3" textLength="39.93" lengthAdjust="spacingAndGlyphs" fill="#fff">0.00</text><text x="395.61" y="766.19" font-size="19.3" textLength="39.80" lengthAdjust="spacingAndGlyphs" fill="#fff">0.07</text><text x="454.97" y="766.19" font-size="19.3" textLength="40.03" lengthAdjust="spacingAndGlyphs" fill="#fff">0.19</text><text x="513.65" y="766.19" font-size="19.3" textLength="39.52" lengthAdjust="spacingAndGlyphs" fill="#fff">0.22</text><text x="571.27" y="766.19" font-size="19.3" textLength="40.03" lengthAdjust="spacingAndGlyphs" fill="#262626">0.29</text><text x="629.24" y="766.19" font-size="19.3" textLength="39.93" lengthAdjust="spacingAndGlyphs" fill="#fff">0.00</text><text x="688.70" y="766.19" font-size="19.3" textLength="40.10" lengthAdjust="spacingAndGlyphs" fill="#262626">0.26</text><text x="747.43" y="766.19" font-size="19.3" textLength="39.59" lengthAdjust="spacingAndGlyphs" fill="#262626">0.25</text><text x="805.25" y="766.19" font-size="19.3" textLength="39.98" lengthAdjust="spacingAndGlyphs" fill="#fff">0.88</text><text x="864.54" y="766.19" font-size="19.3" textLength="39.93" lengthAdjust="spacingAndGlyphs" fill="#fff">0.90</text><text x="922.81" y="766.19" font-size="19.3" textLength="39.03" lengthAdjust="spacingAndGlyphs" fill="#fff">1.00</text><text x="980.97" y="766.19" font-size="19.3" textLength="40.03" lengthAdjust="spacingAndGlyphs" fill="#fff">0.89</text><text x="220.04" y="824.26" font-size="19.3" textLength="39.93" lengthAdjust="spacingAndGlyphs" fill="#fff">0.00</text><text x="279.94" y="824.26" font-size="19.3" textLength="39.93" lengthAdjust="spacingAndGlyphs" fill="#fff">0.10</text><text x="337.54" y="824.26" font-size="19.3" textLength="39.93" lengthAdjust="spacingAndGlyphs" fill="#fff">0.00</text><text x="395.44" y="824.26" font-size="19.3" textLength="39.93" lengthAdjust="spacingAndGlyphs" fill="#fff">0.00</text><text x="455.25" y="824.26" font-size="19.3" textLength="39.52" lengthAdjust="spacingAndGlyphs" fill="#fff">0.22</text><text x="513.47" y="824.26" font-size="19.3" textLength="39.77" lengthAdjust="spacingAndGlyphs" fill="#fff">0.23</text><text x="571.37" y="824.26" font-size="19.3" textLength="39.77" lengthAdjust="spacingAndGlyphs" fill="#262626">0.33</text><text x="629.24" y="824.26" font-size="19.3" textLength="39.93" lengthAdjust="spacingAndGlyphs" fill="#fff">0.00</text><text x="688.77" y="824.26" font-size="19.3" textLength="40.03" lengthAdjust="spacingAndGlyphs" fill="#262626">0.29</text><text x="747.41" y="824.26" font-size="19.3" textLength="39.80" lengthAdjust="spacingAndGlyphs" fill="#262626">0.27</text><text x="805.27" y="824.26" font-size="19.3" textLength="40.03" lengthAdjust="spacingAndGlyphs" fill="#fff">0.89</text><text x="864.78" y="824.26" font-size="19.3" textLength="39.64" lengthAdjust="spacingAndGlyphs" fill="#fff">0.91</text><text x="922.77" y="824.26" font-size="19.3" textLength="40.03" lengthAdjust="spacingAndGlyphs" fill="#fff">0.89</text><text x="981.01" y="824.26" font-size="19.3" textLength="39.03" lengthAdjust="spacingAndGlyphs" fill="#fff">1.00</text></g>
<g stroke="#000" stroke-width="1.46"><line x1="204.00" y1="64.54" x2="211.20" y2="64.54"/><line x1="240.00" y1="848.50" x2="240.00" y2="855.70"/><line x1="204.00" y1="122.61" x2="211.20" y2="122.61"/><line x1="299.90" y1="848.50" x2="299.90" y2="855.70"/><line x1="204.00" y1="180.68" x2="211.20" y2="180.68"/><line x1="357.50" y1="848.50" x2="357.50" y2="855.70"/><line x1="204.00" y1="238.75" x2="211.20" y2="238.75"/><line x1="415.40" y1="848.50" x2="415.40" y2="855.70"/><line x1="204.00" y1="296.82" x2="211.20" y2="296.82"/><line x1="474.90" y1="848.50" x2="474.90" y2="855.70"/><line x1="204.00" y1="354.89" x2="211.20" y2="354.89"/><line x1="533.30" y1="848.50" x2="533.30" y2="855.70"/><line x1="204.00" y1="412.96" x2="211.20" y2="412.96"/><line x1="591.20" y1="848.50" x2="591.20" y2="855.70"/><line x1="204.00" y1="471.04" x2="211.20" y2="471.04"/><line x1="649.20" y1="848.50" x2="649.20" y2="855.70"/><line x1="204.00" y1="529.11" x2="211.20" y2="529.11"/><line x1="708.70" y1="848.50" x2="708.70" y2="855.70"/><line x1="204.00" y1="587.18" x2="211.20" y2="587.18"/><line x1="767.20" y1="848.50" x2="767.20" y2="855.70"/><line x1="204.00" y1="645.25" x2="211.20" y2="645.25"/><line x1="825.20" y1="848.50" x2="825.20" y2="855.70"/><line x1="204.00" y1="703.32" x2="211.20" y2="703.32"/><line x1="884.50" y1="848.50" x2="884.50" y2="855.70"/><line x1="204.00" y1="761.39" x2="211.20" y2="761.39"/><line x1="942.70" y1="848.50" x2="942.70" y2="855.70"/><line x1="204.00" y1="819.46" x2="211.20" y2="819.46"/><line x1="1000.90" y1="848.50" x2="1000.90" y2="855.70"/><line x1="1121.70" y1="848.50" x2="1128.90" y2="848.50"/><line x1="1121.70" y1="685.90" x2="1128.90" y2="685.90"/><line x1="1121.70" y1="523.30" x2="1128.90" y2="523.30"/><line x1="1121.70" y1="360.70" x2="1128.90" y2="360.70"/><line x1="1121.70" y1="198.10" x2="1128.90" y2="198.10"/><line x1="1121.70" y1="35.50" x2="1128.90" y2="35.50"/></g>
<g><text x="87.70" y="69.34" font-size="19.5" textLength="109.35" lengthAdjust="spacingAndGlyphs" fill="#000">failureeffect</text><text x="87.90" y="127.41" font-size="19.5" textLength="109.02" lengthAdjust="spacingAndGlyphs" fill="#000">failuremode</text><text x="98.61" y="185.48" font-size="19.5" textLength="98.78" lengthAdjust="spacingAndGlyphs" fill="#000">fmeacause</text><text x="94.70" y="243.55" font-size="19.5" textLength="102.66" lengthAdjust="spacingAndGlyphs" fill="#000">fmeaaction</text><text x="67.29" y="301.62" font-size="19.5" textLength="128.67" lengthAdjust="spacingAndGlyphs" fill="#000">Bloco_envio_1</text><text x="5.15" y="359.69" font-size="19.5" textLength="190.54" lengthAdjust="spacingAndGlyphs" fill="#000">Dispositivo_Aparaf_1</text><text x="35.42" y="417.76" font-size="19.5" textLength="160.30" lengthAdjust="spacingAndGlyphs" fill="#000">PC_Days_Counter</text><text x="60.83" y="475.84" font-size="19.5" textLength="135.10" lengthAdjust="spacingAndGlyphs" fill="#000">PC_LastStart_1</text><text x="53.69" y="533.91" font-size="19.5" textLength="142.28" lengthAdjust="spacingAndGlyphs" fill="#000">Ponta_Aparaf_1</text><text x="75.07" y="591.98" font-size="19.5" textLength="121.26" lengthAdjust="spacingAndGlyphs" fill="#000">Tubo_envio_1</text><text x="84.37" y="650.05" font-size="19.5" textLength="112.58" lengthAdjust="spacingAndGlyphs" fill="#000">Temp_Core1</text><text x="84.37" y="708.12" font-size="19.5" textLength="112.60" lengthAdjust="spacingAndGlyphs" fill="#000">Temp_Core2</text><text x="84.37" y="766.19" font-size="19.5" textLength="112.48" lengthAdjust="spacingAndGlyphs" fill="#000">Temp_Core3</text><text x="84.37" y="824.26" font-size="19.5" textLength="111.69" lengthAdjust="spacingAndGlyphs" fill="#000">Temp_Core4</text></g>
<g><g transform="translate(244.10,863.50) rotate(-90)"><text x="-109.20" y="0.00" font-size="19.5" textLength="109.35" lengthAdjust="spacingAndGlyphs" fill="#000">failureeffect</text></g><g transform="translate(304.00,864.40) rotate(-90)"><text x="-108.10" y="0.00" font-size="19.5" textLength="109.02" lengthAdjust="spacingAndGlyphs" fill="#000">failuremode</text></g><g transform="translate(361.60,864.80) rotate(-90)"><text x="-97.89" y="0.00" font-size="19.5" textLength="98.78" lengthAdjust="spacingAndGlyphs" fill="#000">fmeacause</text></g><g transform="translate(419.50,864.80) rotate(-90)"><text x="-101.30" y="0.00" font-size="19.5" textLength="102.66" lengthAdjust="spacingAndGlyphs" fill="#000">fmeaaction</text></g><g transform="translate(479.00,867.80) rotate(-90)"><text x="-127.71" y="0.00" font-size="19.5" textLength="128.67" lengthAdjust="spacingAndGlyphs" fill="#000">Bloco_envio_1</text></g><g transform="translate(537.40,868.20) rotate(-90)"><text x="-189.55" y="0.00" font-size="19.5" textLength="190.54" lengthAdjust="spacingAndGlyphs" fill="#000">Dispositivo_Aparaf_1</text></g><g transform="translate(595.30,865.90) rotate(-90)"><text x="-159.98" y="0.00" font-size="19.5" textLength="160.30" lengthAdjust="spacingAndGlyphs" fill="#000">PC_Days_Counter</text></g><g transform="translate(653.30,866.70) rotate(-90)"><text x="-134.17" y="0.00" font-size="19.5" textLength="135.10" lengthAdjust="spacingAndGlyphs" fill="#000">PC_LastStart_1</text></g><g transform="translate(712.80,867.20) rotate(-90)"><text x="-141.31" y="0.00" font-size="19.5" textLength="142.28" lengthAdjust="spacingAndGlyphs" fill="#000">Ponta_Aparaf_1</text></g><g transform="translate(771.30,866.30) rotate(-90)"><text x="-120.33" y="0.00" font-size="19.5" textLength="121.26" lengthAdjust="spacingAndGlyphs" fill="#000">Tubo_envio_1</text></g><g transform="translate(829.30,865.30) rotate(-90)"><text x="-111.63" y="0.00" font-size="19.5" textLength="112.58" lengthAdjust="spacingAndGlyphs" fill="#000">Temp_Core1</text></g><g transform="translate(888.60,863.50) rotate(-90)"><text x="-111.63" y="0.00" font-size="19.5" textLength="112.60" lengthAdjust="spacingAndGlyphs" fill="#000">Temp_Core2</text></g><g transform="translate(946.80,863.50) rotate(-90)"><text x="-111.63" y="0.00" font-size="19.5" textLength="112.48" lengthAdjust="spacingAndGlyphs" fill="#000">Temp_Core3</text></g><g transform="translate(1005.00,862.90) rotate(-90)"><text x="-111.13" y="0.00" font-size="19.5" textLength="111.69" lengthAdjust="spacingAndGlyphs" fill="#000">Temp_Core4</text></g></g>
<defs><linearGradient id="cb" x1="0" y1="1" x2="0" y2="0"><stop offset="0.0000" stop-color="#3b4cc0"/><stop offset="0.0156" stop-color="#3f53c6"/><stop offset="0.0312" stop-color="#445acc"/><stop offset="0.0469" stop-color="#4961d2"/><stop offset="0.0625" stop-color="#4e68d8"/><stop offset="0.0781" stop-color="#536edd"/><stop offset="0.0938" stop-color="#5875e1"/><stop offset="0.1094" stop-color="#5d7ce6"/><stop offset="0.1250" stop-color="#6282ea"/><stop offset="0.1406" stop-color="#6788ee"/><stop offset="0.1562" stop-color="#6c8ff1"/><stop offset="0.1719" stop-color="#7295f4"/><stop offset="0.1875" stop-color="#779af7"/><stop offset="0.2031" stop-color="#7da0f9"/><stop offset="0.2188" stop-color="#82a6fb"/><stop offset="0.2344" stop-color="#88abfd"/><stop offset="0.2500" stop-color="#8db0fe"/><stop offset="0.2656" stop-color="#93b5fe"/><stop offset="0.2812" stop-color="#98b9ff"/><stop offset="0.2969" stop-color="#9ebeff"/><stop offset="0.3125" stop-color="#a3c2fe"/><stop offset="0.3281" stop-color="#a9c6fd"/><stop offset="0.3438" stop-color="#aec9fc"/><stop offset="0.3594" stop-color="#b3cdfb"/><stop offset="0.3750" stop-color="#b9d0f9"/><stop offset="0.3906" stop-color="#bed2f6"/><stop offset="0.4062" stop-color="#c3d5f4"/><stop offset="0.4219" stop-color="#c7d7f0"/><stop offset="0.4375" stop-color="#ccd9ed"/><stop offset="0.4531" stop-color="#d1dae9"/><stop offset="0.4688" stop-color="#d5dbe5"/><stop offset="0.4844" stop-color="#d9dce1"/><stop offset="0.5000" stop-color="#dddcdc"/><stop offset="0.5156" stop-color="#e1dad6"/><stop offset="0.5312" stop-color="#e5d8d1"/><stop offset="0.5469" stop-color="#e9d5cb"/><stop offset="0.5625" stop-color="#ecd3c5"/><stop offset="0.5781" stop-color="#efcfbf"/><stop offset="0.5938" stop-color="#f1ccb8"/><stop offset="0.6094" stop-color="#f3c8b2"/><stop offset="0.6250" stop-color="#f5c4ac"/><stop offset="0.6406" stop-color="#f6bfa6"/><stop offset="0.6562" stop-color="#f7ba9f"/><stop offset="0.6719" stop-color="#f7b599"/><stop offset="0.6875" stop-color="#f7b093"/><stop offset="0.7031" stop-color="#f7aa8c"/><stop offset="0.7188" stop-color="#f6a586"/><stop offset="0.7344" stop-color="#f59f80"/><stop offset="0.7500" stop-color="#f4987a"/><stop offset="0.7656" stop-color="#f29274"/><stop offset="0.7812" stop-color="#f08b6e"/><stop offset="0.7969" stop-color="#ee8468"/><stop offset="0.8125" stop-color="#eb7d62"/><stop offset="0.8281" stop-color="#e8765c"/><stop offset="0.8438" stop-color="#e46e56"/><stop offset="0.8594" stop-color="#e16751"/><stop offset="0.8750" stop-color="#dd5f4b"/><stop offset="0.8906" stop-color="#d85646"/><stop offset="0.9062" stop-color="#d44e41"/><stop offset="0.9219" stop-color="#cf453c"/><stop offset="0.9375" stop-color="#ca3b37"/><stop offset="0.9531" stop-color="#c43032"/><stop offset="0.9688" stop-color="#be242e"/><stop offset="0.9844" stop-color="#b8122a"/><stop offset="1.0000" stop-color="#b40426"/></linearGradient></defs>
<rect x="1081.0" y="35.5" width="40.70" height="813.00" fill="url(#cb)"/>
<g><text x="1135.21" y="856.10" font-size="19.3" textLength="28.27" lengthAdjust="spacingAndGlyphs" fill="#000">0.0</text><text x="1135.22" y="693.50" font-size="19.3" textLength="27.85" lengthAdjust="spacingAndGlyphs" fill="#000">0.2</text><text x="1135.21" y="530.90" font-size="19.3" textLength="28.26" lengthAdjust="spacingAndGlyphs" fill="#000">0.4</text><text x="1135.20" y="368.30" font-size="19.3" textLength="28.44" lengthAdjust="spacingAndGlyphs" fill="#000">0.6</text><text x="1135.20" y="205.70" font-size="19.3" textLength="28.33" lengthAdjust="spacingAndGlyphs" fill="#000">0.8</text><text x="1134.45" y="43.10" font-size="19.3" textLength="28.22" lengthAdjust="spacingAndGlyphs" fill="#000">1.0</text></g>
<text x="472.18" y="24.40" font-size="23.0" textLength="293.85" lengthAdjust="spacingAndGlyphs" fill="#000">Phi-K Correlation Heatmap</text>
</g></svg></div></body></html>
